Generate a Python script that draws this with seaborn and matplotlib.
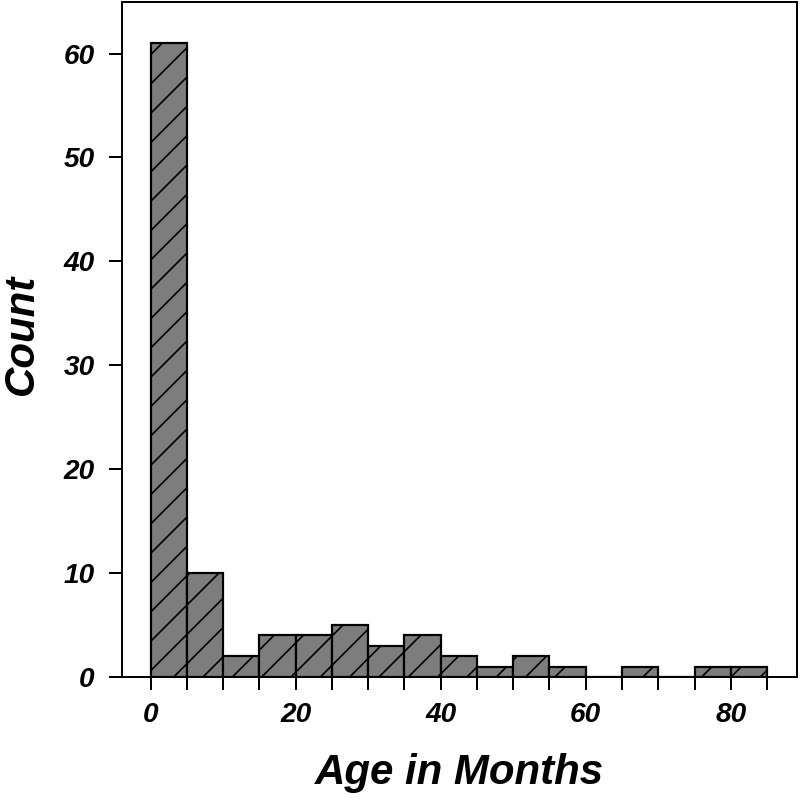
import numpy as np
import matplotlib
matplotlib.use("Agg")
import matplotlib.pyplot as plt
import seaborn as sns

# histogram of ages, bins of 5 months
bin_start = [0, 5, 10, 15, 20, 25, 30, 35, 40, 45, 50, 55, 60, 65, 70, 75, 80]
bin_edges = bin_start + [85]
counts = [61, 10, 2, 4, 4, 5, 3, 4, 2, 1, 2, 1, 0, 1, 0, 1, 1]
x_ticks = bin_edges
x_labels = ["0", "", "", "", "20", "", "", "", "40", "", "", "", "60", "", "", "", "80", ""]
y_ticks = [0, 10, 20, 30, 40, 50, 60]

# dpi chosen so the default hatch spacing matches the original
DPI = 88


def pt(px):
    # pixel size -> points at the output dpi
    return px * 72.0 / DPI


sns.set_style("ticks")
plt.rcParams["font.family"] = ["Liberation Sans", "DejaVu Sans"]
plt.rcParams["hatch.linewidth"] = pt(1.7)
plt.rcParams["text.color"] = "black"
plt.rcParams["axes.labelcolor"] = "black"
plt.rcParams["xtick.color"] = "black"
plt.rcParams["ytick.color"] = "black"

fig = plt.figure(figsize=(800 / DPI, 805 / DPI), dpi=DPI)
ax = fig.add_axes([0.152, 0.159, 0.844, 0.839])

sns.histplot(
    x=bin_start,
    weights=counts,
    bins=bin_edges,
    color="#7d7d7d",
    edgecolor="black",
    linewidth=pt(2.2),
    hatch="/",
    alpha=1,
    ax=ax,
)

ax.set_xlim(-4, 89.1)
ax.set_ylim(0, 65)
ax.set_xticks(x_ticks)
ax.set_xticklabels(x_labels)
ax.set_yticks(y_ticks)

for s in ax.spines.values():
    s.set_visible(True)
    s.set_linewidth(pt(2))
    s.set_color("black")

ax.tick_params(axis="both", direction="out", length=pt(13), width=pt(2),
               color="black", labelcolor="black")
ax.tick_params(axis="x", pad=pt(12))
ax.tick_params(axis="y", pad=pt(14))
for lab in ax.get_xticklabels() + ax.get_yticklabels():
    lab.set_fontsize(pt(28))
    lab.set_fontweight("bold")
    lab.set_fontstyle("italic")

ax.set_xlabel("Age in Months", fontsize=pt(42), fontweight="bold", fontstyle="italic",
              labelpad=pt(25), color="black")
ax.set_ylabel("Count", fontsize=pt(42), fontweight="bold", fontstyle="italic",
              labelpad=pt(21), color="black")
ax.yaxis.label.set_y(0.507)

fig.savefig("out.png", dpi=DPI, facecolor="white")
